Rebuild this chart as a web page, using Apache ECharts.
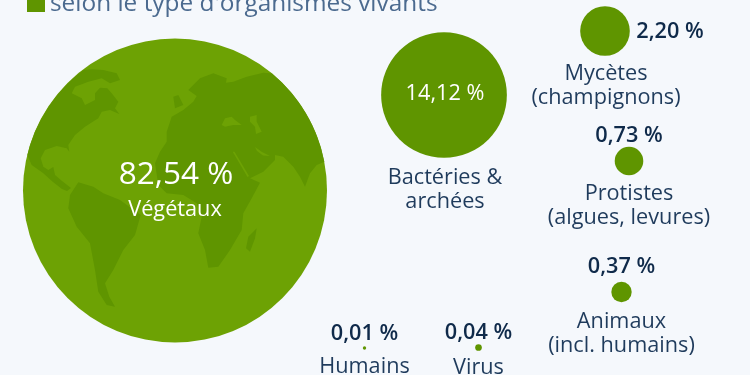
<!DOCTYPE html>
<html>
<head>
<meta charset="utf-8">
<style>
  html, body { margin: 0; background: #f5f8fc; }
  #chart { width: 750px; height: 375px; }
</style>
<script src="https://cdn.jsdelivr.net/npm/echarts@6/dist/echarts.min.js"></script>
</head>
<body>
<div id="chart"></div>
<script>
const groupLabel = "selon le type d'organismes vivants";
const names = ["Végétaux", "Bactéries &\narchées", "Mycètes\n(champignons)", "Protistes\n(algues, levures)", "Animaux\n(incl. humains)", "Virus", "Humains"];
const shares = [82.54, 14.12, 2.2, 0.73, 0.37, 0.04, 0.01];

// placement on the page, the bubbles have no real axes
const centerX = [175, 444, 605, 629, 621.5, 478.5, 364.5];
const centerY = [190.5, 95, 31, 161, 292, 347.5, 348];
const shareOffset = [[1, -15], [1, -1], [65, 1], [0, -25], [0, -25], [0, -15], [0, -14]];
const nameOffset = [[0, 19], [1, 95], [1, 55], [0, 45], [0, 42], [0, 20], [0, 19]];

const green = "#5f9500";
const lightGreen = "#6da204";
const darkText = "#0f2a4a";
const nameText = "#1f3b5c";

// area of a bubble follows the share
const bubbleSize = (v) => 2 * 16.73 * Math.sqrt(v);
const frenchPct = (v) => v.toFixed(2).replace(".", ",") + " %";

// world map on the big bubble, page pixels
const landPaths = [
  "M27.3 155 L31.7 165 L43 173 L53 182 L62 189 L67 191 L71 188 L62 181 L55 175 L53.3 167 L48.3 170 L43.3 166.7 L40.7 158.3 L45 150 L56.7 146 L66.7 148.3 L69.3 151.7 L68.3 145 L75 135 L85 126.7 L98.3 118.3 L101.7 111.7 L110 110 L119.3 114 L115 108.3 L118.3 101.7 L111.7 93.3 L107.3 88.3 L100 87.7 L95 93.3 L95 100 L85 105 L81.7 98.3 L71.7 93.3 L75 86.7 L88.3 81.7 L95 80 L101.7 78.3 L110 83.3 L120 80 L116.7 73.3 L103.3 70 L91.7 69.3 L83.3 70 A152 152 0 0 0 27.3 155 Z",
  "M68.3 208.3 L70 195 L78.3 182.3 L93.3 186.7 L103.3 193.3 L120 200 L140.7 215 L135 235 L123.3 250 L113.3 270 L105 283.3 L109.3 296.7 L115 306.7 L106.7 305 L98.3 291.7 L95 270 L90 243.3 L76.7 226.7 Z",
  "M188.3 90 L200 78.3 L213.3 73.3 L226.7 78.3 L226 82.7 L233.3 81.7 L246.7 76.7 L263.3 72.7 L272 73.5 A152 152 0 0 1 324.3 161.7 L316.7 165 L310 173.3 L305 186.7 L300 176.7 L293.3 166.7 L283.3 156.7 L275 155 L275 160 L263.3 171.7 L250 178.3 L260 182.7 L251.7 198.3 L243.3 213.3 L241.7 230 L230 250 L218.3 266.7 L208.3 267.7 L205 250 L198.3 233.3 L201.7 216.7 L196.7 203.3 L183.3 195 L166.7 193.3 L158.3 185 L155 163.3 L160 151.7 L166.7 141.7 L166.7 131.7 L171.7 116.7 L183.3 110 L193.3 101.7 L196.7 96 Z",
  "M256.7 228.3 L255 238.3 L250 251.7 L246 248.3 L248.3 236.7 Z",
  "M173.3 96.7 L178.3 95 L183.3 105 L175 108.3 Z"
];
const seaPaths = [
  "M221.7 125 L225 118.3 L231.7 116.7 L235 120 L241.7 125 L233.3 125 L225 126.7 Z",
  "M250 116.7 L256.7 115 L256.7 121.7 L261.7 131.7 L256 134 L255 126.7 L250 121.7 Z",
  "M255 147 L262 152 L270 156 L263 155.5 L257 151 Z",
  "M232.7 151.7 L234.5 151.7 L249 176 L247.5 177 Z"
];

const bubbleData = shares.map((v, i) => ({
  value: [centerX[i], centerY[i], v],
  itemStyle: { color: i === 0 ? lightGreen : green },
}));

const shareLabels = shares.map((v, i) => ({
  value: [centerX[i], centerY[i], v],
  label: {
    offset: shareOffset[i],
    color: i < 2 ? "#ffffff" : darkText,
    fontSize: i === 0 ? 31.5 : 21.7,
    fontWeight: i < 2 ? "normal" : 600,
  },
}));

const nameLabels = names.map((n, i) => ({
  name: n,
  value: [centerX[i], centerY[i], shares[i]],
  label: {
    offset: nameOffset[i],
    color: i === 0 ? "#ffffff" : nameText,
    fontSize: 21.7,
    lineHeight: 24,
  },
}));

const renderMap = () => ({
  type: "group",
  children: [
    ...landPaths.map((d) => ({ type: "path", shape: { pathData: d }, style: { fill: green } })),
    ...seaPaths.map((d) => ({ type: "path", shape: { pathData: d }, style: { fill: lightGreen } })),
  ],
});

const chart = echarts.init(document.getElementById("chart"));
chart.setOption({
  backgroundColor: "#f5f8fc",
  animation: false,
  textStyle: { fontFamily: "Open Sans" },
  legend: {
    data: [groupLabel],
    left: 22,
    top: -13,
    icon: "rect",
    itemWidth: 18,
    itemHeight: 16,
    selectedMode: false,
    textStyle: { fontFamily: "Open Sans", fontSize: 24.4, color: "#4b6a8f", padding: [4, 0, 0, 0] },
  },
  grid: { left: 0, right: 0, top: 0, bottom: 0 },
  xAxis: { type: "value", min: 0, max: 750, show: false },
  yAxis: { type: "value", min: 0, max: 375, inverse: true, show: false },
  series: [
    {
      name: groupLabel,
      type: "scatter",
      z: 1,
      data: bubbleData,
      symbolSize: (val) => bubbleSize(val[2]),
      itemStyle: { color: green, opacity: 1 },
      silent: true,
    },
    {
      name: "carte",
      type: "custom",
      coordinateSystem: "none",
      z: 2,
      silent: true,
      data: [0],
      renderItem: renderMap,
    },
    {
      name: "parts",
      type: "scatter",
      z: 3,
      data: shareLabels,
      symbolSize: 1,
      itemStyle: { color: "transparent", opacity: 1 },
      label: { show: true, position: "inside", opacity: 1, formatter: (p) => frenchPct(p.value[2]) },
      silent: true,
    },
    {
      name: "noms",
      type: "scatter",
      z: 3,
      data: nameLabels,
      symbolSize: 1,
      itemStyle: { color: "transparent", opacity: 1 },
      label: { show: true, position: "inside", opacity: 1, align: "center", formatter: "{b}" },
      silent: true,
    },
  ],
});
</script>
</body>
</html>
